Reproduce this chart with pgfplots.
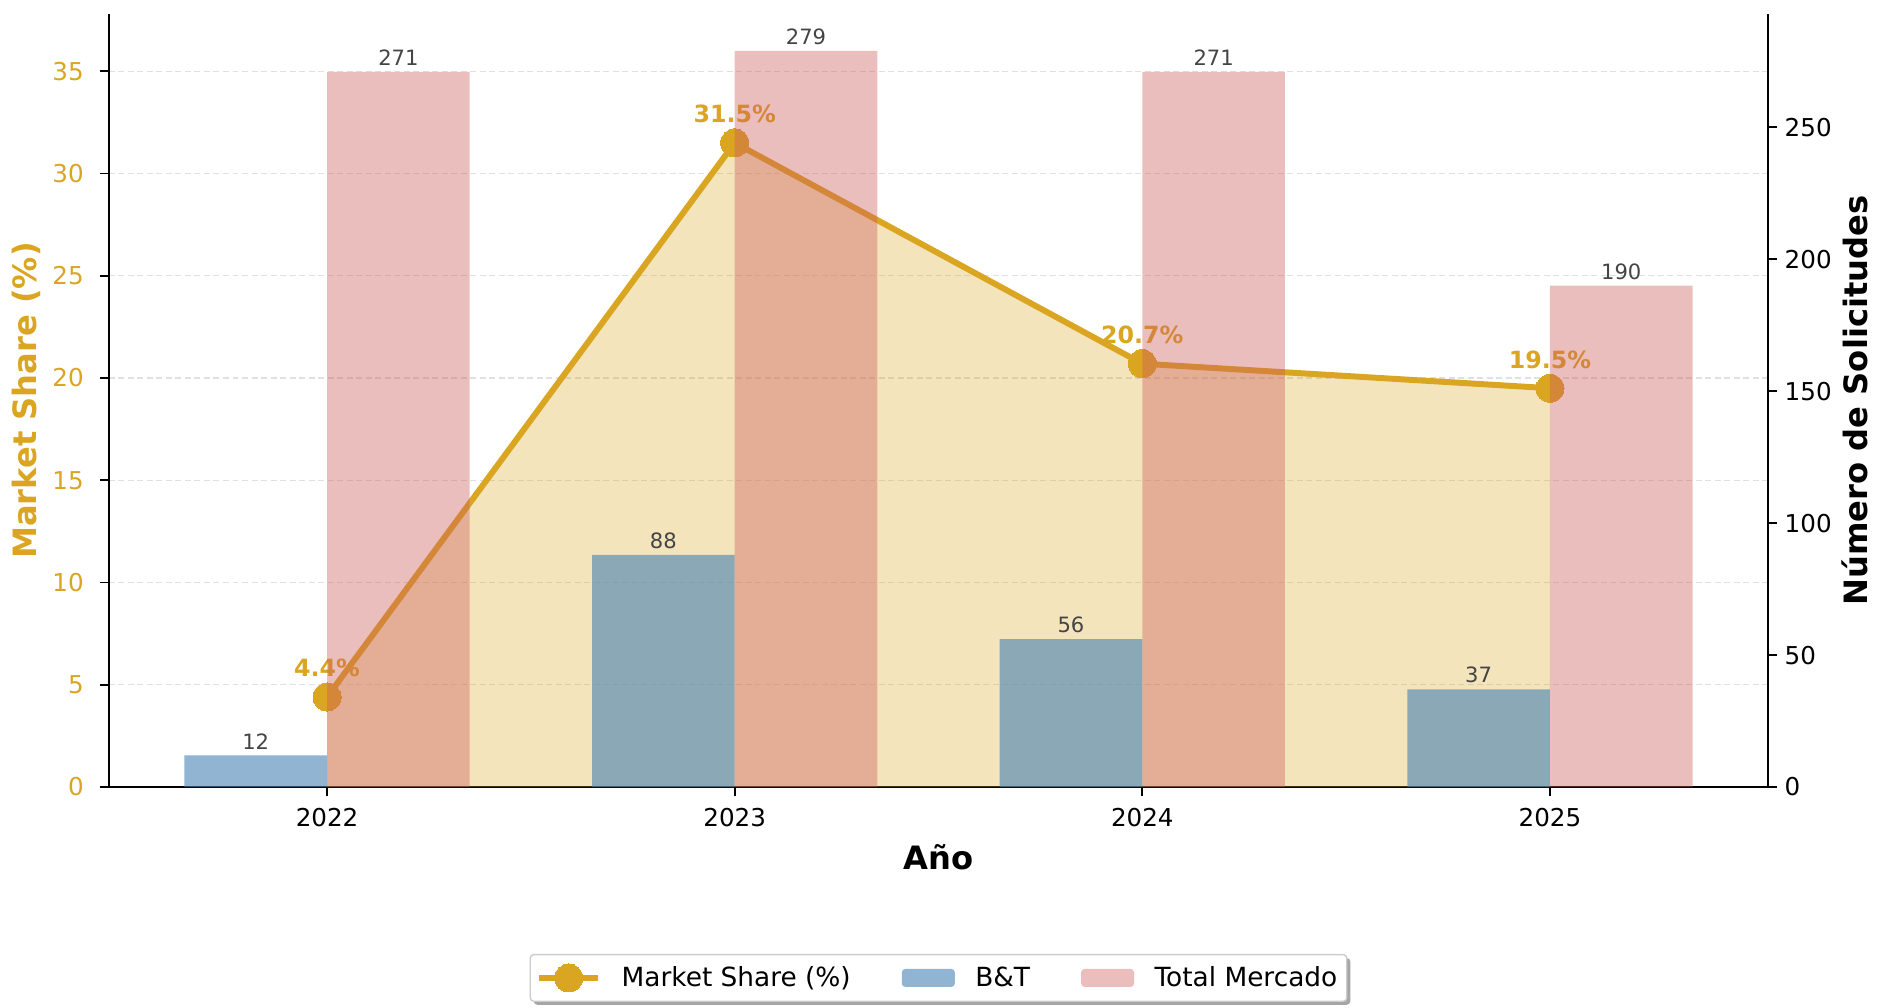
\documentclass[border=0pt]{standalone}
\usepackage{pgfplots}
\pgfplotsset{compat=1.18}
\usepackage{fontspec}
\setmainfont{DejaVu Sans}
\usetikzlibrary{shadows}
\definecolor{gold}{RGB}{218,165,32}
\definecolor{btblue}{RGB}{70,130,180}
\definecolor{mktpink}{RGB}{205,92,92}
\definecolor{valgray}{RGB}{68,68,68}
\makeatletter
\tikzset{no preactions/.code={\let\tikz@preactions\pgfutil@empty}}
\makeatother
\pgfplotsset{/pgf/number format/assume math mode=true,
  barlegend/.style={legend image code/.code={\fill[no preactions, ##1] (0cm,-0.18cm) rectangle (1.06cm,0.18cm);}},
  linelegend/.style={legend image code/.code={\draw[no preactions, ##1, mark repeat=2, mark phase=2] plot coordinates {(0cm,0cm) (0.59cm,0cm) (1.18cm,0cm)};}},
}
\begin{document}
\begin{tikzpicture}
\useasboundingbox (-2.18cm,-4.40cm) rectangle (35.40cm,15.74cm);
\begin{axis}[
  scale only axis, width=33.18cm, height=15.46cm,
  xmin=-0.535, xmax=3.535, ymin=0, ymax=37.8,
  axis x line=bottom, axis y line=left,
  axis line style={-, line width=1.1pt, black},
  xtick={0,1,2,3}, xticklabels={2022,2023,2024,2025},
  ytick={0,5,...,35},
  tick align=outside, major tick length=0.18cm,
  every tick/.style={black, line width=1.1pt},
  ymajorgrids, grid style={dash pattern=on 0.12cm off 0.07cm, black!12, line width=0.8pt},
  xticklabel style={font=\fontsize{14}{17}\selectfont, black, yshift=-0.12cm},
  yticklabel style={font=\fontsize{14}{17}\selectfont, text=gold, xshift=-0.2cm},
  every axis x label/.style={at={(axis description cs:0.5,-0.0906)}, anchor=center, font=\fontsize{18.3}{22}\selectfont\bfseries},
  every axis y label/.style={at={(axis description cs:-0.05,0.5)}, rotate=90, anchor=center, font=\fontsize{18.3}{22}\selectfont\bfseries, text=gold},
  xlabel={Año}, ylabel={Market Share (\%)},
]
\addplot[draw=none, fill=gold, fill opacity=0.3, forget plot] coordinates {(0,4.4) (1,31.5) (2,20.7) (3,19.5)} \closedcycle;
\addplot[gold, line width=3.4pt, mark=*, mark size=8pt, mark options={solid, fill=gold, draw=gold, line width=0pt},
  nodes near coords={\pgfmathprintnumber[fixed,precision=1,fixed zerofill]{\pgfplotspointmeta}\%},
  every node near coord/.append style={font=\fontsize{13.5}{16}\selectfont\bfseries, text=gold, anchor=south, yshift=0.28cm}]
  coordinates {(0,4.4) (1,31.5) (2,20.7) (3,19.5)};
\end{axis}
\begin{axis}[
  scale only axis, width=33.18cm, height=15.46cm,
  xmin=-0.535, xmax=3.535, ymin=0, ymax=292.95,
  axis x line=none, axis y line=right,
  axis line style={-, line width=1.1pt, black},
  ytick={0,50,...,250},
  tick align=outside, major tick length=0.18cm,
  every tick/.style={black, line width=1.1pt},
  yticklabel style={font=\fontsize{14}{17}\selectfont, black, xshift=0.03cm},
  every axis y label/.style={at={(axis description cs:1.0524,0.5)}, rotate=90, anchor=center, font=\fontsize{18.3}{22}\selectfont\bfseries},
  ylabel={Número de Solicitudes},
  legend style={at={(0.5,-0.247)}, anchor=center, legend columns=3,
    draw=black!20, fill=white, rounded corners=2pt, line width=0.8pt,
    drop shadow={shadow xshift=0.07cm, shadow yshift=-0.07cm, fill=black, opacity=0.35},
    font=\fontsize{15}{18}\selectfont, inner xsep=0.12cm, inner ysep=0.17cm,
    /tikz/every odd column/.append style={column sep=0.34cm},
    /tikz/every even column/.append style={column sep=0.95cm}},
  legend cell align=left,
]
\addlegendimage{gold, line width=3.4pt, mark=*, mark size=8pt, mark options={solid, fill=gold, draw=gold, line width=0pt}, linelegend}
\addlegendentry{Market Share (\%)}
\addplot[ybar, bar width=0.35, bar shift=-0.175, fill=btblue, fill opacity=0.6, draw=none, barlegend,
  nodes near coords,
  every node near coord/.append style={font=\fontsize{12}{14}\selectfont, text=valgray, text opacity=1, anchor=south, xshift=-1.4267cm}]
  coordinates {(0,12) (1,88) (2,56) (3,37)};
\addlegendentry{B\&T}
\addplot[ybar, bar width=0.35, bar shift=0.175, fill=mktpink, fill opacity=0.4, draw=none, barlegend,
  nodes near coords,
  every node near coord/.append style={font=\fontsize{12}{14}\selectfont, text=valgray, text opacity=1, anchor=south, xshift=1.4267cm}]
  coordinates {(0,271) (1,279) (2,271) (3,190)};
\addlegendentry{Total Mercado}
\end{axis}
\end{tikzpicture}
\end{document}
